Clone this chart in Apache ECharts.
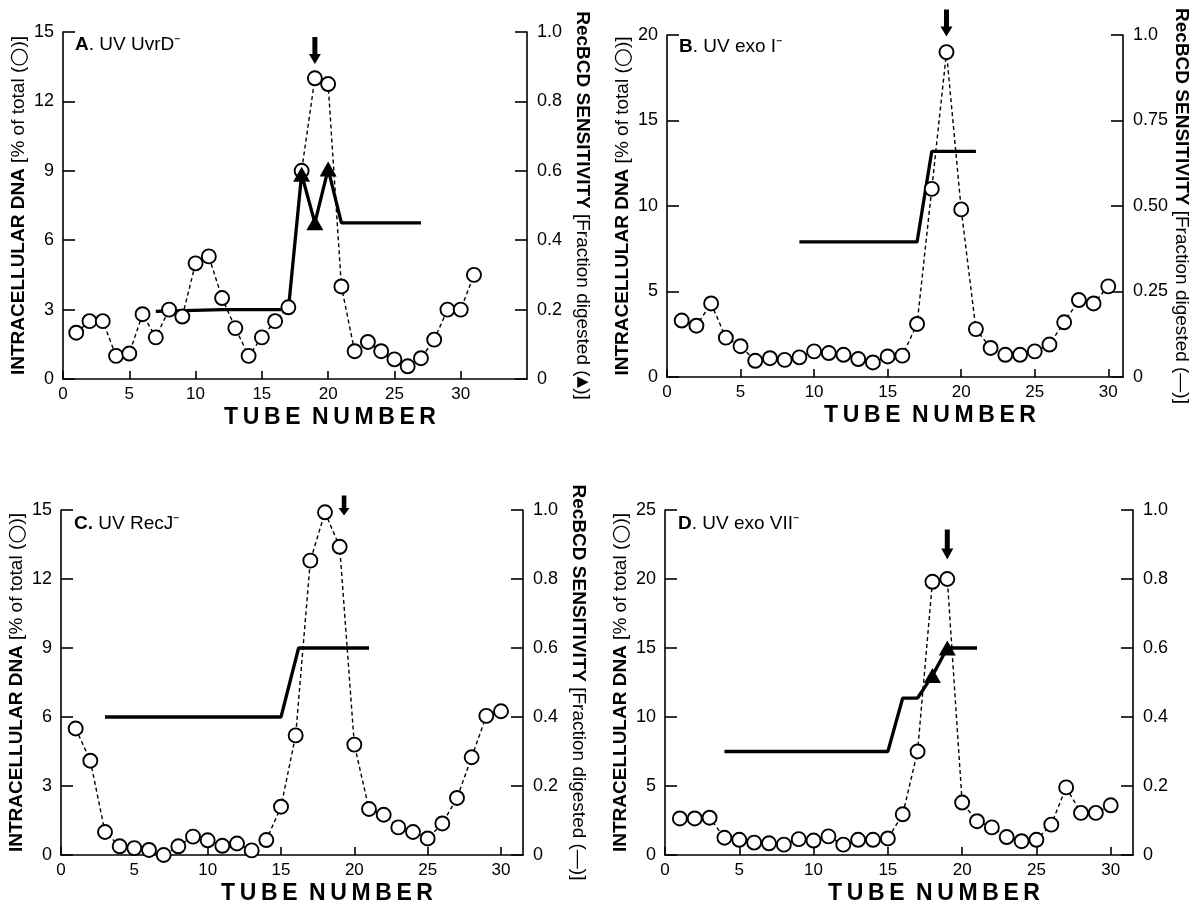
<!DOCTYPE html>
<html><head><meta charset="utf-8">
<script src="https://cdn.jsdelivr.net/npm/echarts@6/dist/echarts.min.js"></script>
<style>html,body{margin:0;padding:0;background:#fff}#c{width:1203px;height:908px}</style>
</head><body><div id="c"></div>
<script>
// ---------- data ----------
const tubesA = [1,2,3,4,5,6,7,8,9,10,11,12,13,14,15,16,17,18,19,20,21,22,23,24,25,26,27,28,29,30,31];
const dnaA = [2.0,2.5,2.5,1.0,1.1,2.8,1.8,3.0,2.7,5.0,5.3,3.5,2.2,1.0,1.8,2.5,3.1,9.0,13.0,12.75,4.0,1.2,1.6,1.2,0.85,0.55,0.9,1.7,3.0,3.0,4.5];
const recA = [[7,0.195],[12,0.2],[17,0.2],[18,0.59],[19,0.45],[20,0.605],[21,0.45],[27,0.45]];
const triTubesA = [18,19,20];
const arrowA = [19,14.2];

const tubesB = [1,2,3,4,5,6,7,8,9,10,11,12,13,14,15,16,17,18,19,20,21,22,23,24,25,26,27,28,29,30];
const dnaB = [3.3,3.0,4.3,2.3,1.8,0.95,1.1,1.0,1.15,1.5,1.4,1.3,1.05,0.85,1.2,1.25,3.1,11.0,19.0,9.8,2.8,1.7,1.3,1.3,1.5,1.9,3.2,4.5,4.3,5.3];
const recB = [[9,0.395],[17,0.395],[18,0.66],[21,0.66]];
const triTubesB = [];
const arrowB = [19,20.7];

const tubesC = [1,2,3,4,5,6,7,8,9,10,11,12,13,14,15,16,17,18,19,20,21,22,23,24,25,26,27,28,29,30];
const dnaC = [5.5,4.1,1.0,0.38,0.3,0.22,0.0,0.38,0.8,0.64,0.4,0.5,0.2,0.65,2.1,5.2,12.8,14.9,13.4,4.8,2.0,1.75,1.2,1.0,0.72,1.37,2.48,4.25,6.05,6.25];
const recC = [[3,0.4],[15,0.4],[16.2,0.6],[21,0.6]];
const triTubesC = [];
const arrowC = [19.3,15.2];

const tubesD = [1,2,3,4,5,6,7,8,9,10,11,12,13,14,15,16,17,18,19,20,21,22,23,24,25,26,27,28,29,30];
const dnaD = [2.65,2.65,2.7,1.25,1.1,0.9,0.85,0.75,1.15,1.05,1.35,0.75,1.1,1.1,1.2,2.95,7.5,19.8,20.0,3.8,2.45,2.0,1.3,1.0,1.1,2.2,4.9,3.05,3.05,3.6];
const recD = [[4,0.3],[15,0.3],[16,0.455],[17,0.455],[18,0.52],[19,0.6],[21,0.6]];
const triTubesD = [18,19];
const arrowD = [19,22.5];

const xTickValues = [0,5,10,15,20,25,30];
const leftTicksA = [0,3,6,9,12,15];
const leftTicksB = [0,5,10,15,20];
const leftTicksC = [0,3,6,9,12,15];
const leftTicksD = [0,5,10,15,20,25];

const titleA = '{b|A}. UV UvrD\u207B';
const titleB = '{b|B}. UV exo I\u207B';
const titleC = '{b|C.} UV RecJ\u207B';
const titleD = '{b|D}. UV exo VII\u207B';
const leftName = '{b|INTRACELLULAR DNA} {n|[% of total (}{c|\u25CB}{n|)]}';
const rightNameA = '{b|RecBCD SENSITIVITY} {n|[Fraction digested (}{t|\u25B2}{n|)]}';
const rightNameB = '{b|RecBCD SENSITIVITY} {n|[Fraction digested (\u2014)]}';
const rightNameC = '{b|RecBCD SENSITIVITY} {n|[Fraction digested (\u2014)]}';
const rightNameD = '';
const xName = 'T\u2009U\u2009B\u2009E\u2002N\u2009U\u2009M\u2009B\u2009E\u2009R';

// ---------- layout & style ----------
const FONT = 'Liberation Sans, Arial, Helvetica, sans-serif';
const ARROW = 'path://M3.5,0 L8.5,0 L8.5,17 L12,17 L6,27 L0,17 L3.5,17 Z';

const panels = [
  {grid:{left:63, top:32, width:464, height:347}, xMax:35, yTicks:leftTicksA, rInt:0.2, rFmt:1,
   title:titleA, tPos:[75,35], tubes:tubesA, dna:dnaA, rec:recA, tri:triTubesA, arrow:arrowA, aSize:[12,27], rName:rightNameA},
  {grid:{left:667, top:35, width:456, height:342}, xMax:31, yTicks:leftTicksB, rInt:0.25, rFmt:2,
   title:titleB, tPos:[679,37], tubes:tubesB, dna:dnaB, rec:recB, tri:triTubesB, arrow:arrowB, aSize:[12,27], rName:rightNameB},
  {grid:{left:61, top:510, width:462, height:345}, xMax:31.5, yTicks:leftTicksC, rInt:0.2, rFmt:1,
   title:titleC, tPos:[74,514], tubes:tubesC, dna:dnaC, rec:recC, tri:triTubesC, arrow:arrowC, aSize:[11,20], rName:rightNameC},
  {grid:{left:665, top:510, width:468, height:345}, xMax:31.5, yTicks:leftTicksD, rInt:0.2, rFmt:1,
   title:titleD, tPos:[678,514], tubes:tubesD, dna:dnaD, rec:recD, tri:triTubesD, arrow:arrowD, aSize:[12,30], rName:rightNameD}
];

const axisLineStyle = {color:'#000', width:1.6};
const nameRich = {
  b:{fontFamily:FONT, fontSize:19, fontWeight:'bold', color:'#000'},
  n:{fontFamily:FONT, fontSize:19, color:'#000'},
  c:{fontFamily:'DejaVu Sans', fontSize:22, color:'#000'},
  t:{fontFamily:'DejaVu Sans', fontSize:15, color:'#000'}
};
const grids = [], xAxes = [], yAxes = [], series = [], titles = [];

panels.forEach((p, i) => {
  grids.push(Object.assign({outerBoundsMode:'none', containLabel:false}, p.grid));
  titles.push({
    text: p.title, left: p.tPos[0], top: p.tPos[1], padding: 0,
    textStyle: {fontFamily: FONT, fontSize: 19, fontWeight: 'normal', color: '#000',
      rich: {b: {fontFamily: FONT, fontSize: 19, fontWeight: 'bold', color:'#000'}}}
  });
  xAxes.push({
    type:'value', gridIndex:i, min:0, max:p.xMax, interval:5,
    axisLine:{show:true, onZero:false, lineStyle:axisLineStyle},
    axisTick:{show:true, inside:true, length:8, lineStyle:axisLineStyle, customValues: xTickValues},
    axisLabel:{show:true, margin:7, fontSize:17, fontFamily:FONT, color:'#000', customValues: xTickValues,
      formatter: v => (xTickValues.indexOf(v) >= 0 ? String(v) : '')},
    splitLine:{show:false},
    name: xName, nameLocation:'middle', nameGap:27,
    nameTextStyle:{fontFamily:FONT, fontSize:23, fontWeight:'bold', color:'#000', padding:[0,0,0,70]}
  });
  const yMax = p.yTicks[p.yTicks.length-1];
  yAxes.push({
    type:'value', gridIndex:i, position:'left', min:0, max:yMax, interval:p.yTicks[1]-p.yTicks[0],
    axisLine:{show:true, lineStyle:axisLineStyle},
    axisTick:{show:true, inside:true, length:12, lineStyle:axisLineStyle},
    axisLabel:{margin:9, fontSize:18, fontFamily:FONT, color:'#000'},
    splitLine:{show:false},
    name: leftName, nameLocation:'middle', nameRotate:90, nameGap:30,
    nameTextStyle:{fontFamily:FONT, fontSize:19, color:'#000', rich:nameRich}
  });
  yAxes.push({
    type:'value', gridIndex:i, position:'right', min:0, max:1, interval:p.rInt,
    axisLine:{show:true, lineStyle:axisLineStyle},
    axisTick:{show:true, inside:true, length:12, lineStyle:axisLineStyle},
    axisLabel:{margin:10, fontSize:18, fontFamily:FONT, color:'#000',
      formatter: v => (v === 0 ? '0' : (v === 1 ? '1.0' : v.toFixed(p.rFmt)))},
    splitLine:{show:false},
    name: p.rName, nameLocation:'middle', nameRotate:-90, nameGap:46,
    nameTextStyle:{fontFamily:FONT, fontSize:19, color:'#000', rich:nameRich}
  });
  series.push({
    type:'line', xAxisIndex:i, yAxisIndex:2*i, z:3,
    data: p.tubes.map((t,k) => [t, p.dna[k]]),
    symbol:'circle', symbolSize:14, showSymbol:true,
    itemStyle:{color:'#fff', borderColor:'#000', borderWidth:1.9},
    lineStyle:{color:'#000', width:1.4, type:[4,3]},
    animation:false, silent:true
  });
  series.push({
    type:'line', xAxisIndex:i, yAxisIndex:2*i+1, z:2,
    data: p.rec, symbol:'none', lineStyle:{color:'#000', width:3.3}, animation:false, silent:true
  });
  if (p.tri.length) {
    series.push({
      type:'scatter', xAxisIndex:i, yAxisIndex:2*i+1, z:4,
      data: p.rec.filter(d => p.tri.indexOf(d[0]) >= 0),
      symbol:'triangle', symbolSize:[17,15], itemStyle:{color:'#000', opacity:1}, animation:false, silent:true
    });
  }
  series.push({
    type:'scatter', xAxisIndex:i, yAxisIndex:2*i, z:5, clip:false,
    data:[p.arrow], symbol:ARROW, symbolSize:p.aSize,
    itemStyle:{color:'#000', opacity:1}, animation:false, silent:true
  });
});

const chart = echarts.init(document.getElementById('c'), null, {renderer:'canvas'});
chart.setOption({
  backgroundColor:'#fff', animation:false,
  title: titles, grid: grids, xAxis: xAxes, yAxis: yAxes, series: series
});
</script></body></html>
